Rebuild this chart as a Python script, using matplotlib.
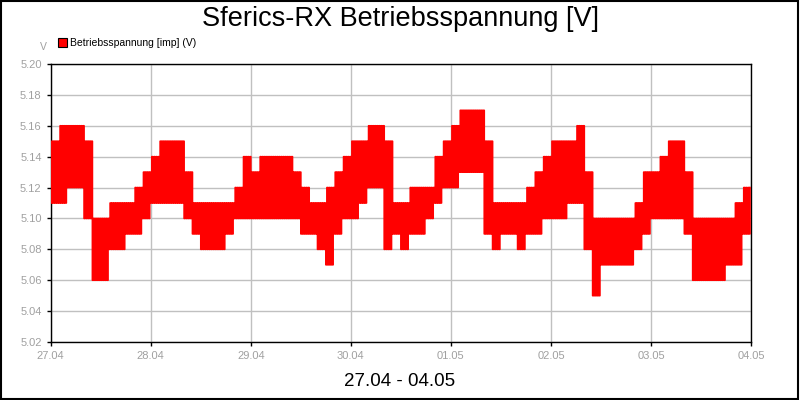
import matplotlib
matplotlib.use("Agg")
import matplotlib.pyplot as plt
from matplotlib.patches import Rectangle
import numpy as np

plt.rcParams['font.family'] = ['Liberation Sans', 'DejaVu Sans']

# 2-hour blocks from 27.04 00:00 to 04.05 00:00, min / max voltage
volt_low = [
    5.11, 5.11, 5.12, 5.12, 5.10, 5.06, 5.06, 5.08, 5.08, 5.09, 5.09, 5.10,  # 27.04
    5.11, 5.11, 5.11, 5.11, 5.10, 5.09, 5.08, 5.08, 5.08, 5.09, 5.10, 5.10,  # 28.04
    5.10, 5.10, 5.10, 5.10, 5.10, 5.10, 5.09, 5.09, 5.08, 5.07, 5.09, 5.10,  # 29.04
    5.10, 5.11, 5.12, 5.12, 5.08, 5.09, 5.08, 5.09, 5.09, 5.10, 5.11, 5.12,  # 30.04
    5.12, 5.13, 5.13, 5.13, 5.09, 5.08, 5.09, 5.09, 5.08, 5.09, 5.09, 5.10,  # 01.05
    5.10, 5.10, 5.11, 5.11, 5.08, 5.05, 5.07, 5.07, 5.07, 5.07, 5.08, 5.09,  # 02.05
    5.10, 5.10, 5.10, 5.10, 5.09, 5.06, 5.06, 5.06, 5.06, 5.07, 5.07, 5.09,  # 03.05
]
volt_high = [
    5.15, 5.16, 5.16, 5.16, 5.15, 5.10, 5.10, 5.11, 5.11, 5.11, 5.12, 5.13,  # 27.04
    5.14, 5.15, 5.15, 5.15, 5.13, 5.11, 5.11, 5.11, 5.11, 5.11, 5.12, 5.14,  # 28.04
    5.13, 5.14, 5.14, 5.14, 5.14, 5.13, 5.12, 5.11, 5.11, 5.12, 5.13, 5.14,  # 29.04
    5.15, 5.15, 5.16, 5.16, 5.15, 5.11, 5.11, 5.12, 5.12, 5.12, 5.14, 5.15,  # 30.04
    5.16, 5.17, 5.17, 5.17, 5.15, 5.11, 5.11, 5.11, 5.11, 5.12, 5.13, 5.14,  # 01.05
    5.15, 5.15, 5.15, 5.16, 5.13, 5.10, 5.10, 5.10, 5.10, 5.10, 5.11, 5.13,  # 02.05
    5.13, 5.14, 5.15, 5.15, 5.13, 5.10, 5.10, 5.10, 5.10, 5.10, 5.11, 5.12,  # 03.05
]
day_labels = ['27.04', '28.04', '29.04', '30.04', '01.05', '02.05', '03.05', '04.05']
y_ticks = [5.02, 5.04, 5.06, 5.08, 5.10, 5.12, 5.14, 5.16, 5.18, 5.20]

# each block is drawn as a dense lo/hi zigzag, like the raw minute data
reps = 8
vals = np.tile(np.column_stack([volt_low, volt_high]), (1, reps // 2)).ravel()
hours = np.linspace(0, 2 * len(volt_low), len(vals), endpoint=False)

fig = plt.figure(figsize=(8, 4), dpi=100)
ax = fig.add_axes([0.0634, 0.145, 0.8754, 0.695])

ax.plot(hours, vals, color='#ff0000', linewidth=1.2, drawstyle='steps-post', zorder=3)

ax.set_xlim(0, 168)
ax.set_ylim(5.02, 5.20)
ax.set_xticks(np.arange(0, 169, 24))
ax.set_xticklabels(day_labels)
ax.set_yticks(y_ticks)
ax.set_yticklabels([f'{v:.2f}' for v in y_ticks])
ax.grid(True, color='#c0c0c0', linewidth=1, zorder=0)
ax.tick_params(colors='black', labelcolor='#a0a0a0', labelsize=8, length=3, width=1)
for s in ax.spines.values():
    s.set_color('black')
    s.set_linewidth(1)

fig.text(0.5, 0.952, 'Sferics-RX Betriebsspannung [V]', ha='center', va='center', fontsize=19.5)
fig.text(0.5, 0.047, '27.04 - 04.05', ha='center', va='center', fontsize=13.5)
fig.text(0.054, 0.882, 'V', ha='center', va='center', fontsize=7.5, color='#a0a0a0')

# legend entry
fig.patches.append(Rectangle((0.073, 0.883), 0.011, 0.022, transform=fig.transFigure,
                             facecolor='#ff0000', edgecolor='black', linewidth=0.8))
fig.text(0.088, 0.893, 'Betriebsspannung [imp] (V)', ha='left', va='center', fontsize=7.5)

# border around the whole picture
fig.patches.append(Rectangle((0.001, 0.002), 0.997, 0.996, transform=fig.transFigure,
                             fill=False, edgecolor='black', linewidth=1.5))

fig.savefig('out.png', dpi=100)
